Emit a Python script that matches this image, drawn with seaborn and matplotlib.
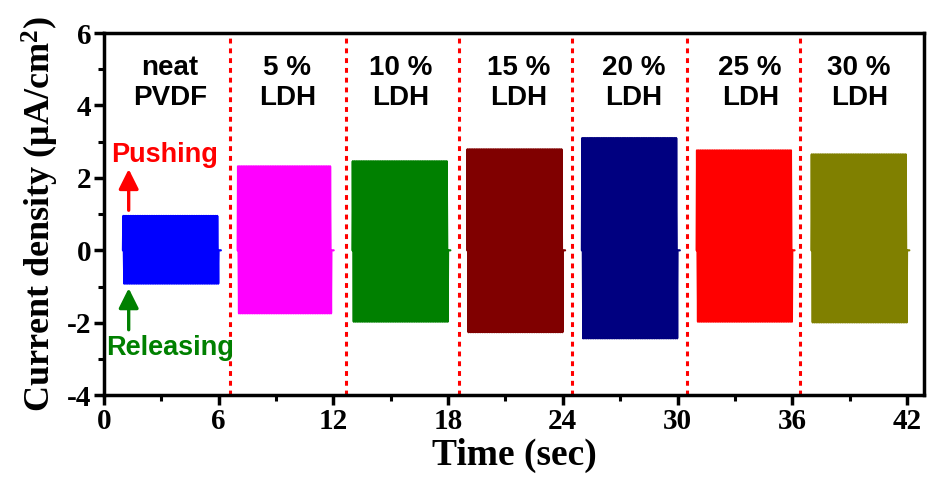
import numpy as np
import pandas as pd
import matplotlib
matplotlib.use("Agg")
import matplotlib.pyplot as plt
import seaborn as sns

# Samples and their output current during repeated pushing/releasing
samples = ["neat\nPVDF", "5 %\nLDH", "10 %\nLDH", "15 %\nLDH", "20 %\nLDH", "25 %\nLDH", "30 %\nLDH"]
colors = ["#0000FF", "#FF00FF", "#008000", "#800000", "#000080", "#FF0000", "#808000"]
t_start = [1.0, 7.0, 13.0, 19.0, 25.0, 31.0, 37.0]
t_end = [6.0, 11.9, 18.0, 24.0, 30.0, 36.0, 42.0]
peak_push = [0.95, 2.32, 2.46, 2.79, 3.10, 2.76, 2.65]
peak_release = [-0.92, -1.74, -1.97, -2.26, -2.43, -1.97, -1.99]
cycles = [55, 55, 55, 55, 55, 55, 55]

# Sample boundaries and label positions
dividers = [6.6, 12.65, 18.55, 24.5, 30.5, 36.4]
label_x = [3.45, 9.6, 15.5, 21.7, 27.7, 33.8, 39.5]
label_y = 4.62

# Assemble each trace: every press/release cycle swings to the measured peaks
rows = []
for name, t0, t1, up, dn, n in zip(samples, t_start, t_end, peak_push, peak_release, cycles):
    period = (t1 - t0) / n
    for k in range(n):
        tk = t0 + k * period
        rows.append((name, tk, 0.0))
        rows.append((name, tk + 0.22 * period, up))
        rows.append((name, tk + 0.5 * period, 0.0))
        rows.append((name, tk + 0.78 * period, dn))
    rows.append((name, t1, 0.0))
    rows.append((name, t1 + 0.12, 0.0))
df = pd.DataFrame(rows, columns=["sample", "t", "j"])

sns.set_theme(style="white")
plt.rcParams["axes.unicode_minus"] = False
plt.rcParams["text.color"] = "black"
plt.rcParams["axes.labelcolor"] = "black"
plt.rcParams["xtick.color"] = "black"
plt.rcParams["ytick.color"] = "black"
plt.rcParams["mathtext.fontset"] = "custom"
plt.rcParams["mathtext.rm"] = "Liberation Serif:bold"
plt.rcParams["mathtext.it"] = "Liberation Serif:bold"
plt.rcParams["mathtext.bf"] = "Liberation Serif:bold"

fig = plt.figure(figsize=(9.27, 4.79), dpi=100)
ax = fig.add_axes([0.112, 0.175, 0.885, 0.756])

sns.lineplot(data=df, x="t", y="j", hue="sample", palette=dict(zip(samples, colors)),
             estimator=None, sort=False, lw=1.6, legend=False, ax=ax)

for xd in dividers:
    ax.axvline(xd, color="#FF0000", lw=2.2, ls=(0, (1.6, 1.6)), zorder=1)

lab_font = ["Liberation Sans", "DejaVu Sans"]
for s, lx in zip(samples, label_x):
    ax.text(lx, label_y, s, ha="center", va="center", fontsize=20, fontweight="bold",
            family=lab_font, linespacing=1.2, color="black")

# Pushing / releasing annotations
ax.annotate("", xy=(1.3, 2.32), xytext=(1.3, 1.03),
            arrowprops=dict(arrowstyle="-|>,head_length=1.0,head_width=0.5", color="#FF0000", lw=2.4))
ax.annotate("", xy=(1.3, -0.97), xytext=(1.3, -2.27),
            arrowprops=dict(arrowstyle="-|>,head_length=1.0,head_width=0.5", color="#008000", lw=2.4))
ax.text(3.2, 2.62, "Pushing", color="#FF0000", ha="center", va="center",
        fontsize=19.5, fontweight="bold", family=lab_font)
ax.text(3.45, -2.7, "Releasing", color="#008000", ha="center", va="center",
        fontsize=19.5, fontweight="bold", family=lab_font)

ax.set_xlim(0, 42.9)
ax.set_ylim(-4, 6)
ax.set_xticks(np.arange(0, 43, 6))
ax.set_xticks(np.arange(3, 43, 6), minor=True)
ax.set_yticks(np.arange(-4, 7, 2))
ax.set_yticks(np.arange(-3, 6, 2), minor=True)

serif = "Liberation Serif"
ax.set_xlabel("Time (sec)", fontsize=27, fontweight="bold", family=serif, labelpad=2)
ax.set_ylabel("Current density (μA/cm$^2$)", fontsize=26, fontweight="bold", family=serif, labelpad=4)
for lbl in ax.get_xticklabels() + ax.get_yticklabels():
    lbl.set_fontfamily(serif)
    lbl.set_fontweight("bold")
    lbl.set_fontsize(21)

ax.tick_params(which="major", direction="out", length=7, width=2.5, color="black",
               bottom=True, left=True, pad=2)
ax.tick_params(which="minor", direction="out", length=4, width=2.2, color="black",
               bottom=True, left=True)
for sp in ax.spines.values():
    sp.set_visible(True)
    sp.set_color("black")
    sp.set_linewidth(2.5)

fig.savefig("out.png", dpi=100)
